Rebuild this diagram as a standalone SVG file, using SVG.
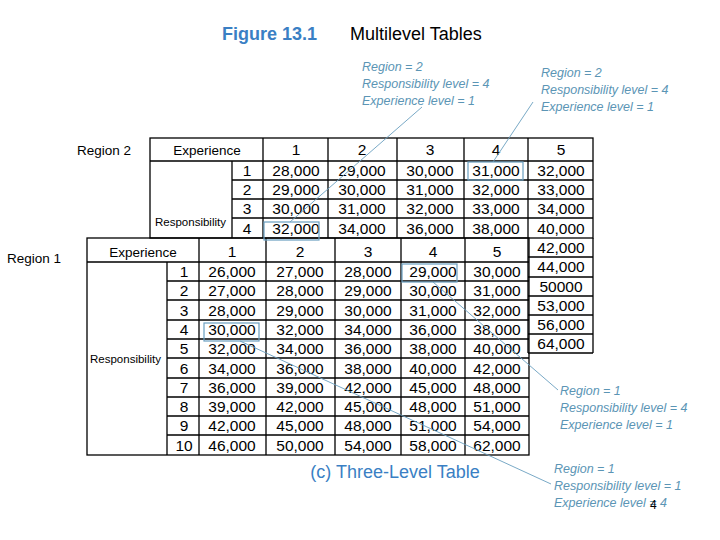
<svg xmlns="http://www.w3.org/2000/svg" width="720" height="540" viewBox="0 0 720 540">
<style>
text{font-family:"Liberation Sans",Arial,sans-serif}
.n{font-size:15.5px;text-anchor:middle;fill:#000}
.s{font-size:11.5px;fill:#000}
.l{font-size:13.5px;fill:#000}
.a{font-size:12.5px;font-style:italic;fill:#5b95b5}
.g{stroke:#000;stroke-width:1.3;fill:none}
.hl{fill:none;stroke:#6a9fc0;stroke-width:1.2}
.ln{stroke:#6a9fc0;stroke-width:0.9}
</style>
<rect width="720" height="540" fill="#fff"/>
<g id="title">
<text x="222" y="40" font-size="18" font-weight="bold" fill="#3a7fc4">Figure 13.1</text>
<text x="350" y="40" font-size="18" fill="#000">Multilevel Tables</text>
</g>
<g id="region2-table">
<rect x="150" y="138" width="443" height="100" fill="#fff" class="g"/>
<path class="g" d="M150 161H593M232 180H593M232 199H593M232 218H593M232 161V238M263 138V238M328 138V238M397 138V238M464 138V238M528 138V353M528 257H593M528 277H593M528 296H593M528 315H593M528 334H593M593 238V353M528 353H593"/>
<text class="l" x="77" y="155">Region 2</text>
<text class="l" x="207" y="155" text-anchor="middle">Experience</text>
<text class="s" x="155" y="226">Responsibility</text>
<g class="n">
<text x="296" y="155">1</text><text x="362" y="155">2</text><text x="430" y="155">3</text><text x="496" y="155">4</text><text x="561" y="155">5</text>
<text x="247" y="176">1</text><text x="247" y="195">2</text><text x="247" y="214">3</text><text x="247" y="234">4</text>
<text x="296" y="176">28,000</text><text x="362" y="176">29,000</text><text x="430" y="176">30,000</text><text x="496" y="176">31,000</text><text x="561" y="176">32,000</text>
<text x="296" y="195">29,000</text><text x="362" y="195">30,000</text><text x="430" y="195">31,000</text><text x="496" y="195">32,000</text><text x="561" y="195">33,000</text>
<text x="296" y="214">30,000</text><text x="362" y="214">31,000</text><text x="430" y="214">32,000</text><text x="496" y="214">33,000</text><text x="561" y="214">34,000</text>
<text x="296" y="234">32,000</text><text x="362" y="234">34,000</text><text x="430" y="234">36,000</text><text x="496" y="234">38,000</text><text x="561" y="234">40,000</text>
<text x="561" y="253">42,000</text><text x="561" y="272">44,000</text><text x="561" y="292">50000</text><text x="561" y="311">53,000</text><text x="561" y="330">56,000</text><text x="561" y="349">64,000</text>
</g>
</g>
<g id="region1-table">
<rect x="87" y="238" width="442" height="217" fill="#fff" class="g"/>
<path class="g" d="M87 262H529M167 281H529M167 300H529M167 320H529M167 339H529M167 358H529M167 378H529M167 397H529M167 416H529M167 435H529M167 262V455M199 238V455M266 238V455M335 238V455M401 238V455M465 238V455"/>
<text class="l" x="7" y="263">Region 1</text>
<text class="l" x="143" y="257" text-anchor="middle">Experience</text>
<text class="s" x="90" y="363">Responsibility</text>
<g class="n">
<text x="232" y="257">1</text><text x="300" y="257">2</text><text x="368" y="257">3</text><text x="433" y="257">4</text><text x="497" y="257">5</text>
<text x="184" y="277">1</text><text x="184" y="296">2</text><text x="184" y="316">3</text><text x="184" y="335">4</text><text x="184" y="354">5</text><text x="184" y="374">6</text><text x="184" y="393">7</text><text x="184" y="412">8</text><text x="184" y="431">9</text><text x="184" y="451">10</text>
<text x="232" y="277">26,000</text><text x="300" y="277">27,000</text><text x="368" y="277">28,000</text><text x="433" y="277">29,000</text><text x="497" y="277">30,000</text>
<text x="232" y="296">27,000</text><text x="300" y="296">28,000</text><text x="368" y="296">29,000</text><text x="433" y="296">30,000</text><text x="497" y="296">31,000</text>
<text x="232" y="316">28,000</text><text x="300" y="316">29,000</text><text x="368" y="316">30,000</text><text x="433" y="316">31,000</text><text x="497" y="316">32,000</text>
<text x="232" y="335">30,000</text><text x="300" y="335">32,000</text><text x="368" y="335">34,000</text><text x="433" y="335">36,000</text><text x="497" y="335">38,000</text>
<text x="232" y="354">32,000</text><text x="300" y="354">34,000</text><text x="368" y="354">36,000</text><text x="433" y="354">38,000</text><text x="497" y="354">40,000</text>
<text x="232" y="374">34,000</text><text x="300" y="374">36,000</text><text x="368" y="374">38,000</text><text x="433" y="374">40,000</text><text x="497" y="374">42,000</text>
<text x="232" y="393">36,000</text><text x="300" y="393">39,000</text><text x="368" y="393">42,000</text><text x="433" y="393">45,000</text><text x="497" y="393">48,000</text>
<text x="232" y="412">39,000</text><text x="300" y="412">42,000</text><text x="368" y="412">45,000</text><text x="433" y="412">48,000</text><text x="497" y="412">51,000</text>
<text x="232" y="431">42,000</text><text x="300" y="431">45,000</text><text x="368" y="431">48,000</text><text x="433" y="431">51,000</text><text x="497" y="431">54,000</text>
<text x="232" y="451">46,000</text><text x="300" y="451">50,000</text><text x="368" y="451">54,000</text><text x="433" y="451">58,000</text><text x="497" y="451">62,000</text>
</g>
</g>
<g id="connectors">
<rect class="hl" x="264" y="222" width="55" height="18"/>
<rect class="hl" x="468" y="162" width="55" height="18"/>
<rect class="hl" x="402" y="264" width="55" height="18"/>
<rect class="hl" x="204" y="323" width="55" height="18"/>
<line class="ln" x1="422" y1="107" x2="290" y2="222"/>
<line class="ln" x1="533" y1="102" x2="493" y2="162"/>
<line class="ln" x1="433" y1="282" x2="558" y2="390"/>
<line class="ln" x1="240" y1="341" x2="551" y2="484"/>
</g>
<g id="annotations">
<text class="a" x="362" y="71">Region = 2</text><text class="a" x="362" y="88">Responsibility level = 4</text><text class="a" x="362" y="105">Experience level = 1</text>
<text class="a" x="541" y="77">Region = 2</text><text class="a" x="541" y="94">Responsibility level = 4</text><text class="a" x="541" y="111">Experience level = 1</text>
<text class="a" x="560" y="395">Region = 1</text><text class="a" x="560" y="412">Responsibility level = 4</text><text class="a" x="560" y="429">Experience level = 1</text>
<text class="a" x="554" y="473">Region = 1</text><text class="a" x="554" y="490">Responsibility level = 1</text><text class="a" x="554" y="507">Experience level = 4</text>
<text x="650" y="509" font-size="12" fill="#000">4</text>
</g>
<text x="395" y="478" font-size="18" text-anchor="middle" fill="#3a7fc4">(c) Three-Level Table</text>
</svg>
